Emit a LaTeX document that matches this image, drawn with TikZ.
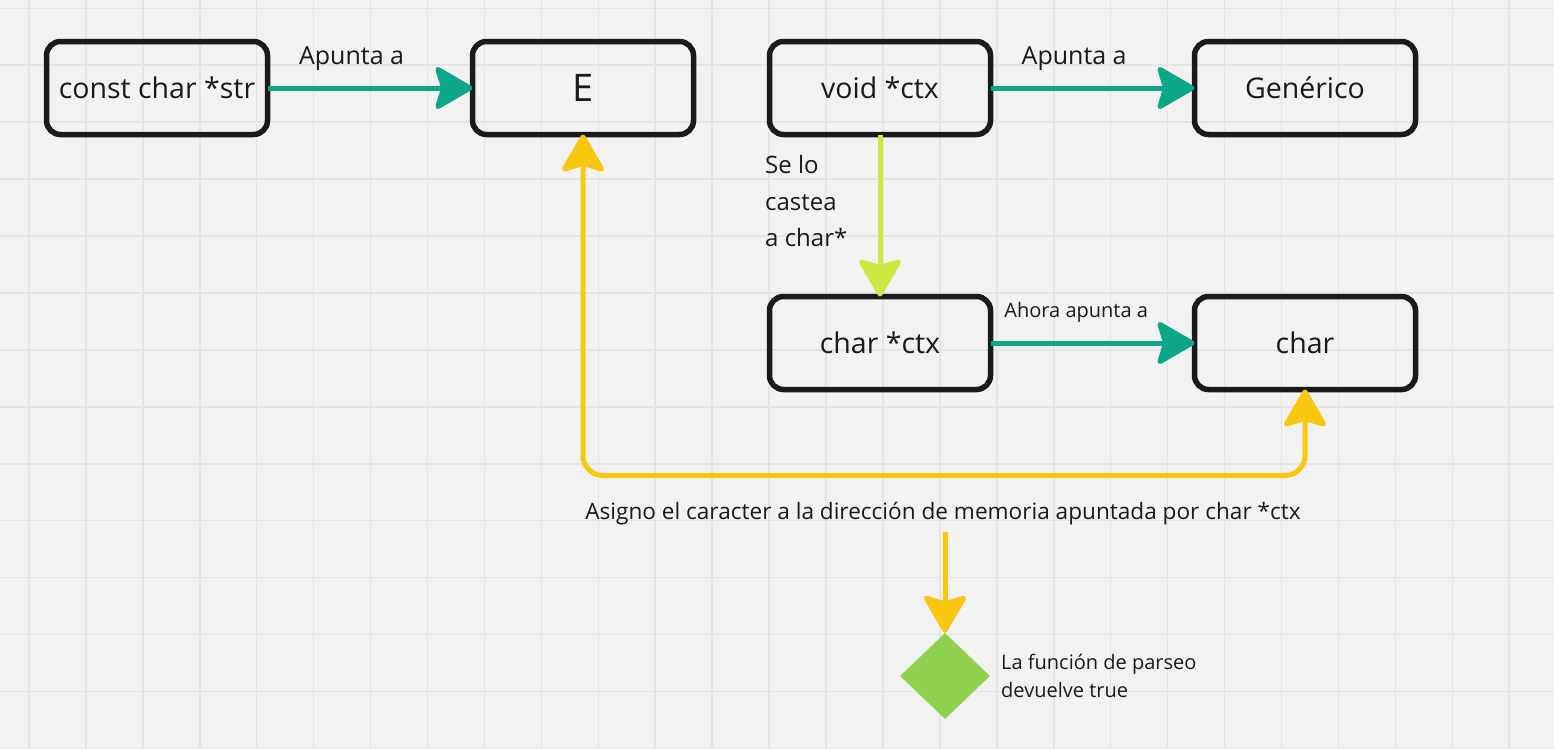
\documentclass[tikz,border=0pt]{standalone}
\usepackage{fontspec}
\setmainfont{Open Sans}
\usetikzlibrary{positioning,shapes.geometric,arrows.meta}

\definecolor{paper}{HTML}{F2F2F2}
\definecolor{gridgray}{HTML}{E4E4E4}
\definecolor{ink}{HTML}{1A1A1A}
\definecolor{miroteal}{HTML}{0CA789}
\definecolor{lime}{HTML}{CEE741}
\definecolor{amber}{HTML}{FAC710}
\definecolor{leaf}{HTML}{8FD14F}

\tikzset{
  fathead/.tip={Stealth[length=41pt,width=47pt,inset=7pt,round]},
  gridline/.style={draw=gridgray,line width=1.5pt},
  box/.style={draw=ink,line width=5.5pt,rounded corners=14pt,minimum width=221pt,
    minimum height=93pt,inner sep=0pt,outer sep=0pt,text=ink,font=\fontsize{28.5}{34}\selectfont},
  link/.style={draw=miroteal,line width=5pt,-fathead},
  note/.style={text=ink,inner sep=0pt,font=\fontsize{25}{36.5}\selectfont},
  small/.style={text=ink,inner sep=0pt,font=\fontsize{20}{28}\selectfont},
}

\begin{document}
\begin{tikzpicture}[x=1pt,y=-1pt]
	\fill[paper] (0,0) rectangle (1554,748);
	\useasboundingbox (0,0) rectangle (1554,748);
	\foreach \i in {0,...,26} \draw[gridline] ({29+56.93*\i},0) -- ++(0,748);
	\foreach \j in {0,...,13} \draw[gridline] (0,{8.3+56.93*\j}) -- ++(1554,0);

	\node [box]                      (str)  at (157,88) {const char *str};
	\node [box,right=205pt of str,font=\fontsize{38}{44}\selectfont] (E) {E};
	\node [box,right=76pt of E]      (void) {void *ctx};
	\node [box,right=204pt of void]  (gen)  {Genérico};
	\node [box,below=162pt of void]  (cctx) {char *ctx};
	\node [box,right=204pt of cctx]  (chr)  {char};
	\node [diamond,fill=leaf,minimum width=90pt,minimum height=86pt,inner sep=0pt] (done) at (945,676) {};

	\node [note,font=\fontsize{24}{36.5}\selectfont,anchor=west,align=left] (cast) at (765,201) {Se lo\\castea\\a char*};
	\node [note,font=\fontsize{22.6}{26}\selectfont] (assign) at (943,514)
		{Asigno el caracter a la dirección de memoria apuntada por char *ctx};
	\node [small,anchor=west,align=left] (true) at (1001,676) {La función de parseo\\devuelve true};

	\draw [link] (str)  -- node[note,pos=.41,yshift=29pt]{Apunta a} (E);
	\draw [link] (void) -- node[note,pos=.41,yshift=29pt]{Apunta a} (gen);
	\draw [link] (cctx) -- node[small,pos=.42,yshift=31pt]{Ahora apunta a} (chr);
	\draw [draw=lime,line width=5pt,-fathead] (void) -- (cctx);
	\draw [draw=amber,line width=5pt,rounded corners=20pt,fathead-fathead]
		(E.south) -- ++(0,341) -| (chr.south);
	\draw [draw=amber,line width=5pt,-fathead] (done.north |- assign.south) ++(0,6) -- (done.north);
\end{tikzpicture}
\end{document}
